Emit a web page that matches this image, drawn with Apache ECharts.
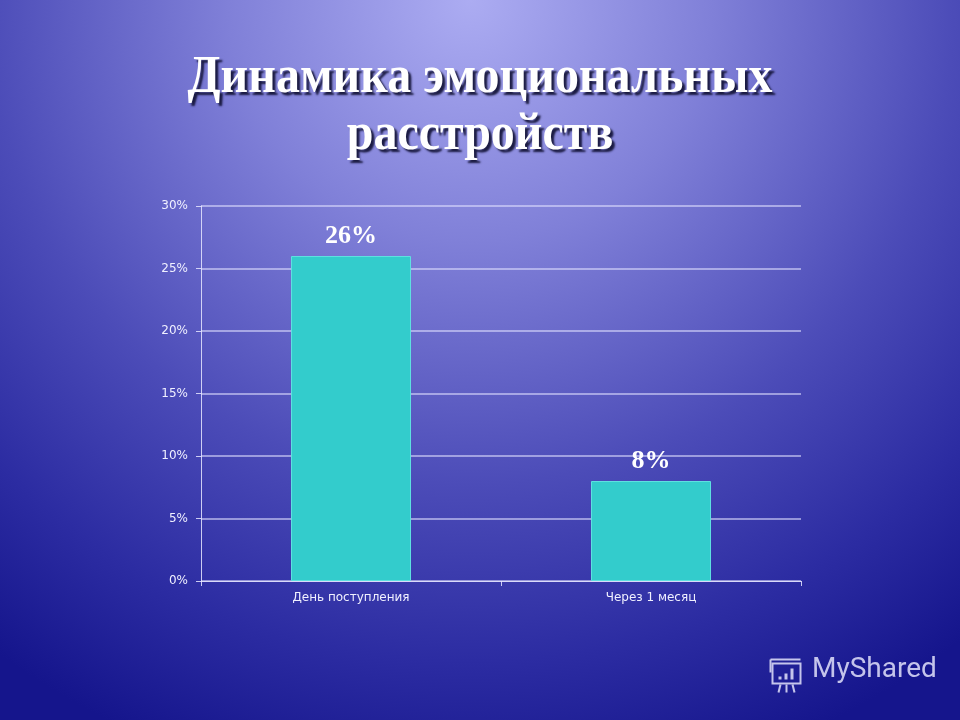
<!DOCTYPE html>
<html>
<head>
<meta charset="utf-8">
<script src="https://cdn.jsdelivr.net/npm/echarts@6/dist/echarts.min.js"></script>
<style>html,body{margin:0;padding:0;}#c{width:960px;height:720px;}</style>
</head>
<body>
<div id="c"></div>
<script>
const titleLines = ['Динамика эмоциональных', 'расстройств'];
const categories = ['День поступления', 'Через 1 месяц'];
const values = [26, 8];
const yTicks = { min: 0, max: 30, interval: 5 };
const watermark = 'MyShared';

const iconStroke = 'rgba(215,215,245,0.9)';
const titleStyle = (txt) => ({
  text: txt,
  font: 'bold 48px "Liberation Serif", "Times New Roman", serif',
  fill: '#ffffff',
  textAlign: 'center', textVerticalAlign: 'middle',
  textShadowColor: 'rgba(15,15,50,0.9)', textShadowOffsetX: 3, textShadowOffsetY: 3, textShadowBlur: 2
});

const chart = echarts.init(document.getElementById('c'));
chart.setOption({
  backgroundColor: {
    type: 'radial', x: 0.49, y: 0.0, r: 1.12,
    colorStops: [
      { offset: 0, color: '#acacf2' },
      { offset: 0.3, color: '#8080d8' },
      { offset: 0.6, color: '#4c4cb8' },
      { offset: 0.82, color: '#2c2ca2' },
      { offset: 1, color: '#15158c' }
    ]
  },
  animation: false,
  grid: { left: 201, right: 159, top: 206, bottom: 139, containLabel: false },
  xAxis: {
    type: 'category', data: categories,
    axisLine: { lineStyle: { color: 'rgba(230,230,255,0.85)', width: 1 } },
    axisTick: { show: true, length: 5, lineStyle: { color: 'rgba(230,230,255,0.85)' } },
    axisLabel: { color: '#f0f0ff', fontFamily: '"DejaVu Sans", Verdana, sans-serif', fontSize: 12, margin: 11 }
  },
  yAxis: {
    type: 'value', min: yTicks.min, max: yTicks.max, interval: yTicks.interval,
    axisLine: { show: true, lineStyle: { color: 'rgba(230,230,255,0.85)', width: 1 } },
    axisTick: { show: true, length: 5, lineStyle: { color: 'rgba(230,230,255,0.85)' } },
    splitLine: { lineStyle: { color: 'rgba(225,225,255,0.75)', width: 1.5 } },
    axisLabel: { color: '#f0f0ff', fontFamily: '"DejaVu Sans", Verdana, sans-serif', fontSize: 12, margin: 13, formatter: '{value}%' }
  },
  series: [{
    type: 'bar', data: values, barWidth: '40%',
    itemStyle: { color: '#33cccc', borderColor: '#5ee0e0', borderWidth: 1 },
    label: {
      show: true, position: 'top', distance: 7, formatter: '{c}%',
      color: '#ffffff', fontFamily: '"Liberation Serif", "Times New Roman", serif', fontWeight: 'bold', fontSize: 26
    }
  }],
  graphic: [
    { type: 'text', x: 480, y: 78, scaleY: 1.12, style: titleStyle(titleLines[0]) },
    { type: 'text', x: 480, y: 135, scaleY: 1.12, style: titleStyle(titleLines[1]) },
    {
      type: 'group', left: 768, top: 657,
      children: [
        { type: 'rect', shape: { x: 6, y: 7, width: 28, height: 20 }, style: { fill: 'none', stroke: iconStroke, lineWidth: 2 } },
        { type: 'line', shape: { x1: 4, y1: 3, x2: 34, y2: 3 }, style: { stroke: iconStroke, lineWidth: 2 } },
        { type: 'line', shape: { x1: 4, y1: 3, x2: 4, y2: 16 }, style: { stroke: iconStroke, lineWidth: 2 } },
        { type: 'rect', shape: { x: 12, y: 20, width: 3, height: 3 }, style: { fill: iconStroke } },
        { type: 'rect', shape: { x: 18, y: 17, width: 3, height: 6 }, style: { fill: iconStroke } },
        { type: 'rect', shape: { x: 24, y: 12, width: 3, height: 11 }, style: { fill: iconStroke } },
        { type: 'line', shape: { x1: 14, y1: 28, x2: 12, y2: 36 }, style: { stroke: iconStroke, lineWidth: 2 } },
        { type: 'line', shape: { x1: 20, y1: 28, x2: 20, y2: 36 }, style: { stroke: iconStroke, lineWidth: 2 } },
        { type: 'line', shape: { x1: 26, y1: 28, x2: 28, y2: 36 }, style: { stroke: iconStroke, lineWidth: 2 } }
      ]
    },
    {
      type: 'text', left: 812, top: 656,
      style: { text: watermark, fill: iconStroke, font: '28px Roboto, "DejaVu Sans", sans-serif' }
    }
  ]
});
</script>
</body>
</html>
